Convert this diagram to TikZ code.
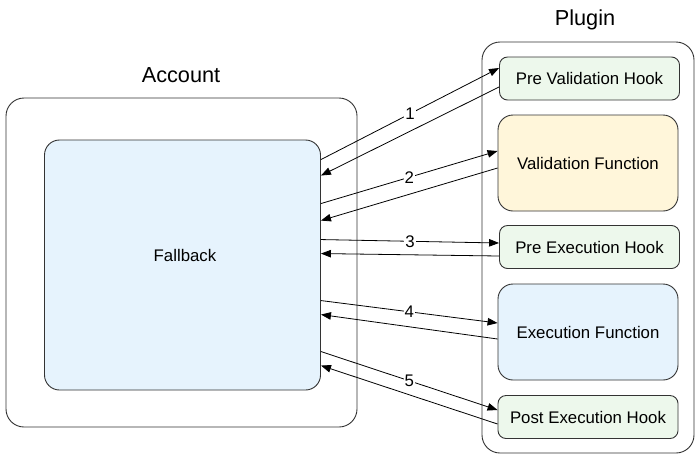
\documentclass[tikz,border=0pt]{standalone}
\usepackage{fontspec}
\setmainfont{Liberation Sans}
\usetikzlibrary{arrows.meta,positioning}
\definecolor{fbblue}{HTML}{E6F3FD}
\definecolor{hookgreen}{HTML}{EDF8EC}
\definecolor{valyellow}{HTML}{FFF6DA}
\definecolor{edgegrey}{HTML}{333333}
\tikzset
{
    frame/.style    = {rectangle, draw=edgegrey, line width=0.9pt, rounded corners=18pt, fill=white},
    bigbox/.style   = {rectangle, draw=edgegrey, line width=0.9pt, rounded corners=15pt, align=center},
    hook/.style     = {rectangle, draw=edgegrey, line width=0.9pt, rounded corners=8pt, fill=hookgreen, minimum width=180pt, minimum height=43pt, align=center},
    func/.style     = {bigbox, minimum width=180pt, minimum height=96pt},
    title/.style    = {font=\fontsize{21.7}{26}\selectfont},
    arrow/.style    = {line width=0.8pt, -{Triangle[length=10pt,width=7.5pt]}},
    steplabel/.style= {fill=white, inner sep=1pt}
}

\begin{document}
\begin{tikzpicture}[x=1pt, y=-1pt, font=\fontsize{16.8}{20}\selectfont]
		\useasboundingbox (0,0) rectangle (700,459);
		% account side
		\node (acc)		[frame, minimum width=351pt, minimum height=329pt] 	at (181.5,262.5)	{};
		\node (acct)	[title] 											at (181,75)			{Account};
		\node (fb)		[bigbox, fill=fbblue, minimum width=276pt, minimum height=250pt] at (182.5,265) {};
		\node (fbt)		[] 													at (185,255)		{Fallback};
		% plugin side
		\node (plg)		[frame, minimum width=212pt, minimum height=411pt] 	at (588,247.5)		{};
		\node (plgt)	[title] 											at (585,20)			{Plugin};
		\node (pvh)		[hook] 												at (589.5,78.5)		{Pre Validation Hook};
		\node (vf)		[func, fill=valyellow] 								at (588,163)		{Validation Function};
		\node (peh)		[hook] 												at (589.5,247)		{Pre Execution Hook};
		\node (ef)		[func, fill=fbblue] 								at (588,332)		{Execution Function};
		\node (poh)		[hook] 												at (588,417)		{Post Execution Hook};
		% calls and returns
		\draw[arrow] ([yshift=-20pt]fb.north east) -- node[steplabel] {1} ([yshift=10.5pt]pvh.west);
		\draw[arrow] ([yshift=-8.5pt]pvh.west) -- ([yshift=-36pt]fb.north east);
		\draw[arrow] ([yshift=-64pt]fb.north east) -- node[steplabel] {2} ([yshift=12pt]vf.west);
		\draw[arrow] ([yshift=-5pt]vf.west) -- ([yshift=-81pt]fb.north east);
		\draw[arrow] ([yshift=-100pt]fb.north east) -- node[steplabel] {3} ([yshift=4pt]peh.west);
		\draw[arrow] ([yshift=-9pt]peh.west) -- ([yshift=-114pt]fb.north east);
		\draw[arrow] ([yshift=-161pt]fb.north east) -- node[steplabel] {4} ([yshift=9pt]ef.west);
		\draw[arrow] ([yshift=-7pt]ef.west) -- ([yshift=-175pt]fb.north east);
		\draw[arrow] ([yshift=-212pt]fb.north east) -- node[steplabel] {5} ([yshift=7pt]poh.west);
		\draw[arrow] ([yshift=-7pt]poh.west) -- ([yshift=-226pt]fb.north east);
	\end{tikzpicture}
\end{document}
